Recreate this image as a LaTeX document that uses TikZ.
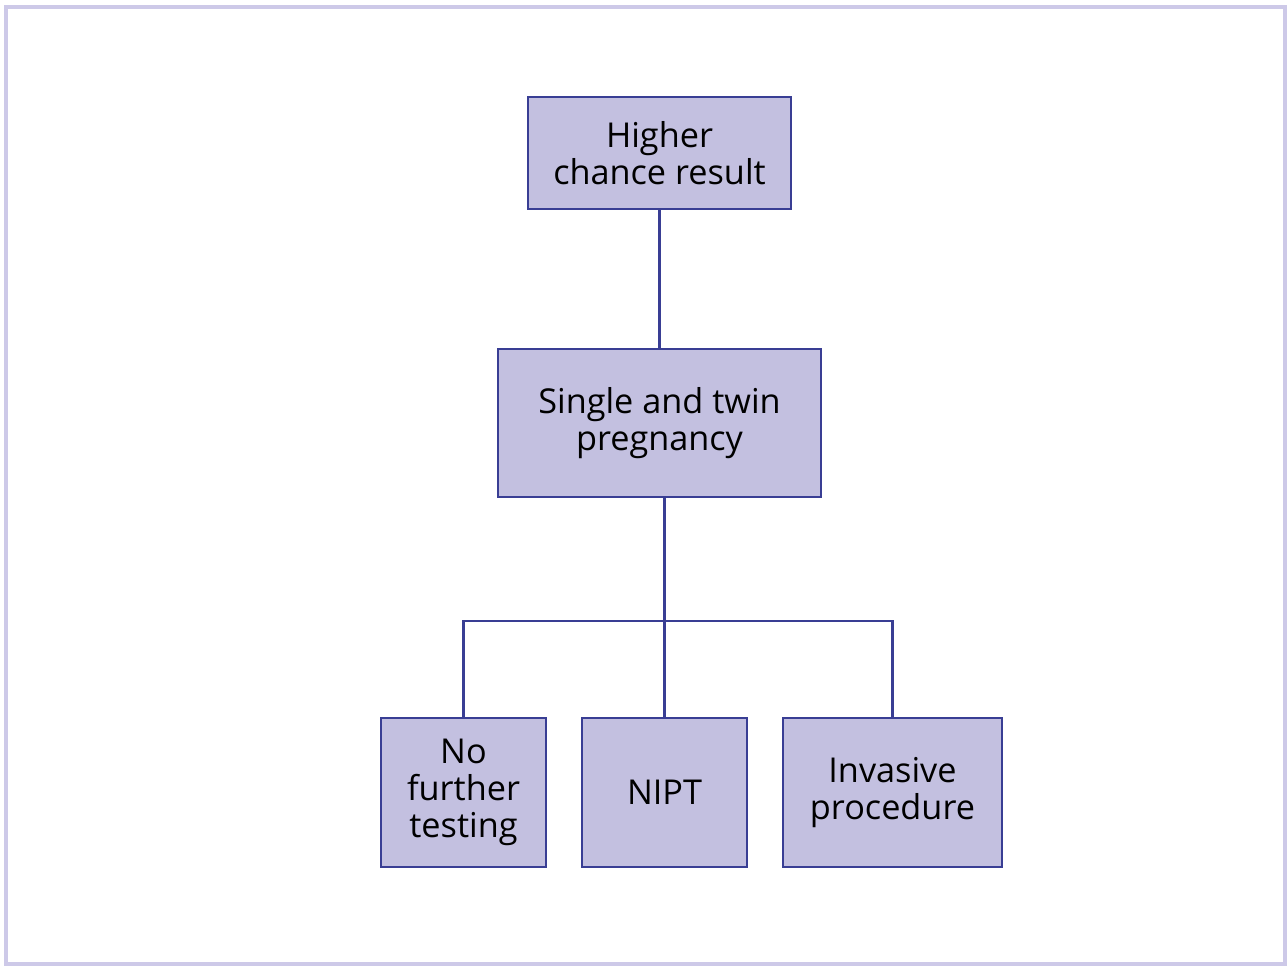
\documentclass[tikz,border=0pt]{standalone}
\usepackage{fontspec}
\setmainfont{Open Sans}
\definecolor{boxfill}{HTML}{C3C0E0}
\definecolor{boxline}{HTML}{393E94}
\definecolor{framecol}{HTML}{CDC9E8}
\begin{document}
\begin{tikzpicture}[x=0.02cm,y=-0.02cm,
                     stagebox/.style={draw=boxline,fill=boxfill,line width=1.6pt,
                       inner sep=0pt,align=center,font=\fontsize{19.5}{21}\selectfont},
                     link/.style={boxline,line width=1.3pt}]
                     \useasboundingbox (0,0) rectangle (1288,967);
                     \draw[framecol,line width=2pt] (6,7) rectangle (1285,964);
                     \node[stagebox,minimum width=5.26cm,minimum height=2.24cm] (higher) at (659.5,153) {Higher\\chance result};
                     \node[stagebox,minimum width=6.46cm,minimum height=2.96cm] (pregnancy) at (659.5,423) {Single and twin\\pregnancy};
                     \node[stagebox,minimum width=3.3cm,minimum height=2.98cm] (nofurther) at (463.5,792.5) {No\\further\\testing};
                     \node[stagebox,minimum width=3.3cm,minimum height=2.98cm] (nipt) at (664.5,792.5) {NIPT};
                     \node[stagebox,minimum width=4.38cm,minimum height=2.98cm] (invasive) at (892.5,792.5) {Invasive\\procedure};
                     \coordinate (split) at (664.5,621);
                     \draw[link] (higher) -- (pregnancy);
                     \draw[link] (pregnancy.south -| nipt.north) -- (nipt.north);
                     \draw[link] (nofurther.north) |- (split) -| (invasive.north);
                   \end{tikzpicture}
\end{document}
